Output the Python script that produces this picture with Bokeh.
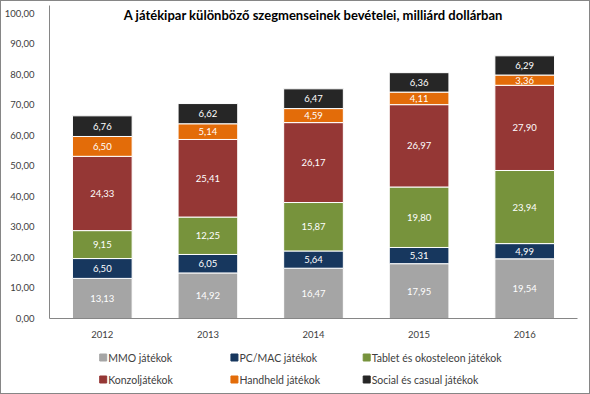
from bokeh.plotting import figure
from bokeh.layouts import column
from bokeh.models import (ColumnDataSource, FactorRange, Range1d,
                          LabelSet, Label, FixedTicker, CustomJSTickFormatter)
from bokeh.core.properties import value
from bokeh.embed import file_html
from bokeh.resources import INLINE

years = ["2012", "2013", "2014", "2015", "2016"]
series_names = ["MMO játékok", "PC/MAC játékok", "Tablet és okosteleon játékok",
                "Konzoljátékok", "Handheld játékok", "Social és casual játékok"]
mmo = [13.13, 14.92, 16.47, 17.95, 19.54]
pcmac = [6.50, 6.05, 5.64, 5.31, 4.99]
tablet = [9.15, 12.25, 15.87, 19.80, 23.94]
konzol = [24.33, 25.41, 26.17, 26.97, 27.90]
handheld = [6.50, 5.14, 4.59, 4.11, 3.36]
social = [6.76, 6.62, 6.47, 6.36, 6.29]
colors = ["#A5A5A5", "#17375E", "#77933C", "#953735", "#E36C09", "#262626"]
title_text = "A játékipar különböző szegmenseinek bevételei, milliárd dollárban"
y_ticks = [0, 10, 20, 30, 40, 50, 60, 70, 80, 90, 100]

# legend layout (page-pixel positions in the legend strip)
legend_x = [100, 232, 365, 100, 232, 365]
legend_y = [36, 36, 36, 14, 14, 14]

FONT = "Lato"
keys = ["s0", "s1", "s2", "s3", "s4", "s5"]
all_series = [mmo, pcmac, tablet, konzol, handheld, social]
data = {"year": years}
for k, s in zip(keys, all_series):
    data[k] = s
source = ColumnDataSource(data)

p = figure(x_range=FactorRange(*years), y_range=Range1d(0, 102.5),
           width=588, height=339, output_backend="svg", toolbar_location=None,
           min_border_left=45, min_border_right=12, min_border_top=4, min_border_bottom=18)

renderers = p.vbar_stack(keys, x="year", width=0.565, color=colors, source=source,
                         line_color="white", line_width=1)

# labels
lx, ly, lt = [], [], []
for i, y in enumerate(years):
    base = 0.0
    for s in all_series:
        v = s[i]
        lx.append(y)
        ly.append(base + v / 2)
        lt.append(f"{v:.2f}".replace(".", ","))
        base += v
lab_src = ColumnDataSource(dict(x=lx, y=ly, t=lt))
p.add_layout(LabelSet(x="x", y="y", text="t", source=lab_src, text_color="white",
                      text_font=value(FONT), text_font_size="9.5px",
                      text_align="center", text_baseline="middle"))

p.add_layout(Label(x=2.5, y=99.3, text=title_text, text_font=FONT,
                   text_font_size="13px", text_font_style="bold", text_color="#000000",
                   text_align="center", text_baseline="middle"))

p.xgrid.visible = False
p.ygrid.visible = False
p.outline_line_color = None

p.yaxis.ticker = FixedTicker(ticks=y_ticks)
p.yaxis.formatter = CustomJSTickFormatter(code="return tick.toFixed(2).replace('.', ',');")
for ax in (p.xaxis, p.yaxis):
    ax.axis_line_color = "#868686"
    ax.major_tick_line_color = None
    ax.minor_tick_line_color = None
    ax.major_label_text_font = FONT
    ax.major_label_text_font_size = "9.5px"
    ax.major_label_text_color = "#404040"
p.yaxis.major_label_standoff = 9
p.xaxis.major_label_standoff = 6

# legend drawn in a separate strip below (its frame is aligned with the chart frame)
p2 = figure(x_range=Range1d(46, 577), y_range=Range1d(0, 53), width=588, height=53,
            output_backend="svg", toolbar_location=None,
            min_border_left=45, min_border_right=12, min_border_top=0, min_border_bottom=0)
p2.axis.visible = False
p2.grid.visible = False
p2.outline_line_color = None
leg_src = ColumnDataSource(dict(x=legend_x, y=legend_y, name=series_names, color=colors,
                                tx=[v + 5 for v in legend_x]))
p2.scatter(x="x", y="y", marker="square", size=7, color="color", source=leg_src)
p2.text(x="tx", y="y", text="name", source=leg_src, text_font=value(FONT),
        text_font_size="10.5px", text_color="#404040", text_baseline="middle",
        text_align="left")

layout = column(p, p2, styles={"border": "1px solid #868686"})
open("out.html", "w").write(file_html(layout, INLINE))
